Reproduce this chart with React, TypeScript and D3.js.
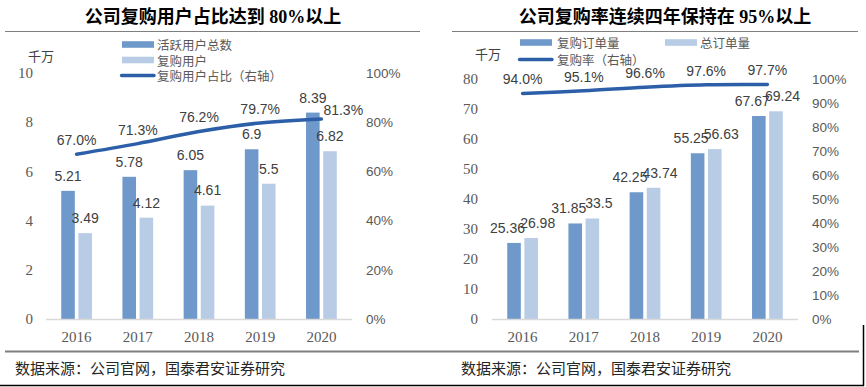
import React from 'react';
import * as d3 from 'd3';

// ---------- data ----------
const years = ['2016', '2017', '2018', '2019', '2020'];

// left chart
const leftTitle = '公司复购用户占比达到 80%以上';
const activeUsers = [5.21, 5.78, 6.05, 6.9, 8.39];
const repeatUsers = [3.49, 4.12, 4.61, 5.5, 6.82];
const repeatUserRatio = [67.0, 71.3, 76.2, 79.7, 81.3];
const leftTicks = [0, 2, 4, 6, 8, 10];
const leftPctTicks = [0, 20, 40, 60, 80, 100];
const leftLegend = ['活跃用户总数', '复购用户', '复购用户占比（右轴）'];

// right chart
const rightTitle = '公司复购率连续四年保持在 95%以上';
const repeatOrders = [25.36, 31.85, 42.25, 55.25, 67.67];
const totalOrders = [26.98, 33.5, 43.74, 56.63, 69.24];
const repeatRate = [94.0, 95.1, 96.6, 97.6, 97.7];
const rightTicks = [0, 10, 20, 30, 40, 50, 60, 70, 80];
const rightPctTicks = [0, 10, 20, 30, 40, 50, 60, 70, 80, 90, 100];
const rightLegend = ['复购订单量', '总订单量', '复购率（右轴）'];

const unitLabel = '千万';
const sourceText = '数据来源：公司官网，国泰君安证券研究';

// ---------- styles ----------
const DARK = '#7099cb';
const LIGHT = '#b8cce5';
const LINE = '#2d5fa9';
const SERIF = '"Liberation Serif", "Noto Sans CJK SC", serif';
const SANS = '"Liberation Sans", Arial, sans-serif';
const CJK = '"Noto Sans CJK SC", sans-serif';

type PanelProps = {
  title: string;
  titleX: number;
  a: number[];
  b: number[];
  pct: number[];
  ticks: number[];
  pctTicks: number[];
  yMax: number;
  x0: number;
  x1: number;
  yTop: number;
  leftLabelX: number;
  rightLabelX: number;
  unitX: number;
  unitY: number;
  labelSpread: number;
  lastPctRight: boolean;
  legend: React.ReactNode;
};

function Panel(p: PanelProps) {
  const yBase = 319;
  const x = d3.scaleBand<string>().domain(years).range([p.x0, p.x1]).padding(0);
  const y = d3.scaleLinear().domain([0, p.yMax]).range([yBase, p.yTop]);
  const yp = d3.scaleLinear().domain([0, 100]).range([yBase, p.yTop]);
  const bw = x.bandwidth() * 0.222;
  const gap = x.bandwidth() * 0.058;
  const cx = (yr: string) => (x(yr) as number) + x.bandwidth() / 2;
  const darkX = (yr: string) => cx(yr) - gap / 2 - bw;
  const lightX = (yr: string) => cx(yr) + gap / 2;

  const line = d3
    .line<number>()
    .x((_, i) => cx(years[i]))
    .y((v) => yp(v))
    .curve(d3.curveCatmullRom.alpha(0.5));

  return (
    <g>
      <text
        x={p.titleX}
        y={17}
        textAnchor="middle"
        dominantBaseline="central"
        fontFamily={SERIF}
        fontWeight="bold"
        fontSize={18}
        fill="#000"
      >
        {p.title}
      </text>
      {p.ticks.map((t) => (
        <text
          key={'l' + t}
          x={p.leftLabelX}
          y={y(t)}
          dy="0.35em"
          textAnchor="end"
          fontFamily={SERIF}
          fontSize={15}
          fill="#595959"
        >
          {t}
        </text>
      ))}
      {p.pctTicks.map((t) => (
        <text
          key={'r' + t}
          x={p.rightLabelX}
          y={yp(t)}
          dy="0.35em"
          textAnchor="start"
          fontFamily={SANS}
          fontSize={13.5}
          fill="#595959"
        >
          {t + '%'}
        </text>
      ))}
      <text
        x={p.unitX}
        y={p.unitY}
        dominantBaseline="central"
        fontFamily={CJK}
        fontSize={13}
        fill="#404040"
      >
        {unitLabel}
      </text>
      {years.map((yr, i) => (
        <g key={yr}>
          <rect x={darkX(yr)} y={y(p.a[i])} width={bw} height={yBase - y(p.a[i])} fill={DARK} />
          <rect x={lightX(yr)} y={y(p.b[i])} width={bw} height={yBase - y(p.b[i])} fill={LIGHT} />
        </g>
      ))}
      <line x1={p.x0} x2={p.x1} y1={yBase + 0.5} y2={yBase + 0.5} stroke="#d9d9d9" strokeWidth={1.5} />
      {years.map((yr) => (
        <text
          key={'x' + yr}
          x={cx(yr)}
          y={337}
          dy="0.35em"
          textAnchor="middle"
          fontFamily={SERIF}
          fontSize={15}
          fill="#595959"
        >
          {yr}
        </text>
      ))}
      <path d={line(p.pct) || ''} fill="none" stroke={LINE} strokeWidth={3.5} strokeLinecap="round" />
      {years.map((yr, i) => (
        <g key={'bl' + yr} fontFamily={SANS} fontSize={14} fill="#404040">
          <text x={darkX(yr) + bw / 2 - p.labelSpread} y={y(p.a[i]) - 15} dy="0.35em" textAnchor="middle">
            {p.a[i]}
          </text>
          <text x={lightX(yr) + bw / 2 + p.labelSpread} y={y(p.b[i]) - 15} dy="0.35em" textAnchor="middle">
            {p.b[i]}
          </text>
        </g>
      ))}
      {years.map((yr, i) => {
        const last = p.lastPctRight && i === years.length - 1;
        return (
          <text
            key={'pl' + yr}
            x={last ? cx(yr) + 2 : cx(yr)}
            y={last ? yp(p.pct[i]) - 9 : yp(p.pct[i]) - 14}
            dy="0.35em"
            textAnchor={last ? 'start' : 'middle'}
            fontFamily={SANS}
            fontSize={14}
            fill="#404040"
          >
            {p.pct[i].toFixed(1) + '%'}
          </text>
        );
      })}
      {p.legend}
    </g>
  );
}

function LegendRect(props: { x: number; y: number; color: string; label: string; tx: number }) {
  return (
    <g>
      <rect x={props.x} y={props.y - 3.3} width={32} height={6.6} fill={props.color} />
      <text
        x={props.tx}
        y={props.y}
        dominantBaseline="central"
        fontFamily={CJK}
        fontSize={12.5}
        fill="#595959"
      >
        {props.label}
      </text>
    </g>
  );
}

function LegendLine(props: { x: number; y: number; label: string; tx: number }) {
  return (
    <g>
      <line x1={props.x + 1.5} x2={props.x + 34} y1={props.y} y2={props.y} stroke={LINE} strokeWidth={3.3} strokeLinecap="round" />
      <text
        x={props.tx}
        y={props.y}
        dominantBaseline="central"
        fontFamily={CJK}
        fontSize={12.5}
        fill="#595959"
      >
        {props.label}
      </text>
    </g>
  );
}

export default function App() {
  const leftLegendEl = (
    <g>
      <LegendRect x={122} y={44.5} color={DARK} label={leftLegend[0]} tx={157} />
      <LegendRect x={122} y={60} color={LIGHT} label={leftLegend[1]} tx={157} />
      <LegendLine x={120} y={75.5} label={leftLegend[2]} tx={157} />
    </g>
  );
  const rightLegendEl = (
    <g>
      <LegendRect x={520} y={42.5} color={DARK} label={rightLegend[0]} tx={557} />
      <LegendRect x={665} y={42.5} color={LIGHT} label={rightLegend[1]} tx={700} />
      <LegendLine x={518} y={59.5} label={rightLegend[2]} tx={557} />
    </g>
  );
  return (
    <svg
      width={866}
      height={387}
      viewBox="0 0 866 387"
      style={{ position: 'absolute', left: 0, top: 0, background: '#fff' }}
    >
      <rect x={0} y={0} width={866} height={387} fill="#fff" />
      <line x1={5} x2={420} y1={31.5} y2={31.5} stroke="#7f7f7f" strokeWidth={1} />
      <line x1={452} x2={858} y1={31.5} y2={31.5} stroke="#7f7f7f" strokeWidth={1} />
      <line x1={5} x2={859} y1={351.5} y2={351.5} stroke="#7f7f7f" strokeWidth={2} />
      <line x1={0} x2={864} y1={385.5} y2={385.5} stroke="#000" strokeWidth={1.5} />
      <line x1={863.5} x2={863.5} y1={325} y2={386} stroke="#000" strokeWidth={1.5} />

      <Panel
        title={leftTitle}
        titleX={213}
        a={activeUsers}
        b={repeatUsers}
        pct={repeatUserRatio}
        ticks={leftTicks}
        pctTicks={leftPctTicks}
        yMax={10}
        x0={46}
        x1={352}
        yTop={73}
        leftLabelX={33}
        rightLabelX={366}
        unitX={28}
        unitY={55}
        labelSpread={0}
        lastPctRight={true}
        legend={leftLegendEl}
      />
      <Panel
        title={rightTitle}
        titleX={665}
        a={repeatOrders}
        b={totalOrders}
        pct={repeatRate}
        ticks={rightTicks}
        pctTicks={rightPctTicks}
        yMax={80}
        x0={492}
        x1={798}
        yTop={79}
        leftLabelX={478}
        rightLabelX={812}
        unitX={475}
        unitY={53}
        labelSpread={6.5}
        lastPctRight={false}
        legend={rightLegendEl}
      />
      <text x={15} y={367} dominantBaseline="central" fontFamily={CJK} fontSize={15} fill="#262626">
        {sourceText}
      </text>
      <text x={461} y={367} dominantBaseline="central" fontFamily={CJK} fontSize={15} fill="#262626">
        {sourceText}
      </text>
    </svg>
  );
}
